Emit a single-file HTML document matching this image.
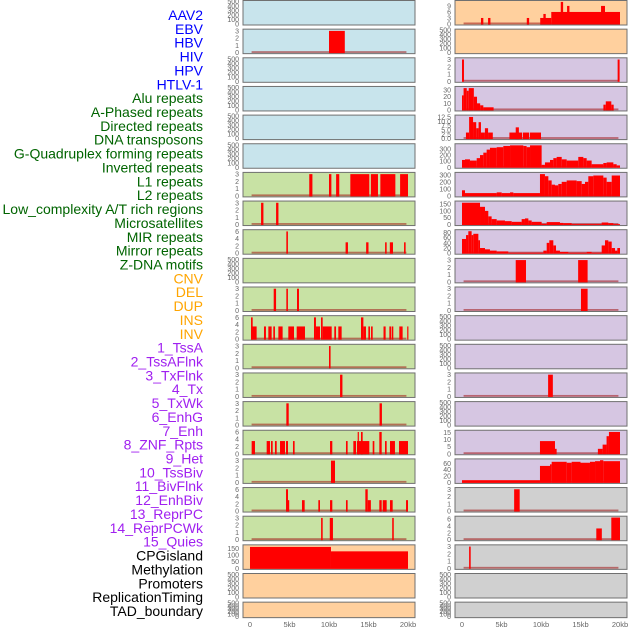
<!DOCTYPE html>
<html><head><meta charset="utf-8"><style>
body{margin:0;background:#fff;width:630px;height:630px;overflow:hidden}
svg{display:block;font-family:"Liberation Sans",sans-serif}
</style></head><body>
<svg id="chart" width="630" height="630" viewBox="0 0 630 630"></svg>
<script>
// ---------- data ----------
const labelNames = ["AAV2","EBV","HBV","HIV","HPV","HTLV-1","Alu repeats","A-Phased repeats","Directed repeats","DNA transposons","G-Quadruplex forming repeats","Inverted repeats","L1 repeats","L2 repeats","Low_complexity A/T rich regions","Microsatellites","MIR repeats","Mirror repeats","Z-DNA motifs","CNV","DEL","DUP","INS","INV","1_TssA","2_TssAFlnk","3_TxFlnk","4_Tx","5_TxWk","6_EnhG","7_Enh","8_ZNF_Rpts","9_Het","10_TssBiv","11_BivFlnk","12_EnhBiv","13_ReprPC","14_ReprPCWk","15_Quies","CPGisland","Methylation","Promoters","ReplicationTiming","TAD_boundary"];
const labelGroups = [6,13,5,15,5];
const groupColors = ["#0000ff","#006400","#ffa500","#a020f0","#000000"];
const xTickValues = [0,5,10,15,20];
const xTickLabels = ["0","5kb","10kb","15kb","20kb"];
const emptyTicks = [0,100,200,300,400,500];
const t3 = [0,1,2,3];
const t6 = [0,2,4,6];

// segments: [startKb, endKb, value]
const leftHBV = [[10,12,3]];
const leftL1 = [[7.5,7.9,3],[10.0,10.3,3],[10.9,11.3,3],[12.7,15.1,3],[15.3,16.2,3],[16.5,18.4,3],[19.0,20,3]];
const leftL2 = [[1.4,1.7,3],[3.3,3.6,3]];
const leftLowComp = [[4.6,4.8,6],[12.1,12.4,3],[14.7,15.0,3],[17.1,17.3,3],[17.7,18.1,3],[19.5,19.7,3]];
const leftMIR = [[3.0,3.3,3],[4.6,4.8,3],[5.95,6.2,3]];
const leftMirror = [[0.13,0.84,3.5],[0.13,0.34,6],[1.77,2.02,3.5],[2.32,2.74,3.5],[2.95,3.16,3.5],[3.59,4.13,3.5],[4.85,5.57,3.5],[5.91,6.96,3.5],[8.1,8.35,6],[8.35,8.86,3.5],[8.99,9.2,6],[9.2,10.34,3.5],[10.67,10.89,3.5],[11.18,11.6,3.5],[14.05,14.35,6],[14.35,14.68,3.5],[14.98,15.19,3.5],[15.32,15.53,3.5],[16.9,17.17,3.5],[17.64,17.85,3.5],[17.93,18.14,3.5],[18.9,19.32,3.5],[19.9,20,3.5]];
const leftTssA = [[10.0,10.2,3]];
const leftTssAFlnk = [[11.4,11.7,3]];
const leftTxFlnk = [[4.6,4.9,3],[16.4,16.7,3]];
const leftTx = [[0.21,0.63,3.5],[2.11,2.53,3.5],[2.66,2.87,3.5],[3.16,3.38,3.5],[3.8,4.43,3.5],[4.56,4.81,3.5],[5.44,5.65,3.5],[10.13,10.42,3.5],[12.15,12.36,3.5],[13.08,13.42,3.5],[13.54,15.1,3.5],[13.63,13.76,6],[14.05,14.26,6],[15.53,15.74,3.5],[16.37,16.67,6],[17.09,17.3,3.5],[17.72,18.35,3.5],[18.86,20,3.5]];
const leftTxWk = [[10.25,10.76,3]];
const leftEnhG = [[4.56,4.81,6],[4.81,4.95,3],[6.58,6.92,3],[8.65,8.86,3],[10.13,10.42,3],[12.15,12.36,3],[14.6,14.9,6],[14.9,15.3,3],[16.37,16.67,3],[16.8,17.3,3],[17.72,18.06,3],[19.75,20,3]];
const leftEnh = [[9.0,9.2,3],[10.1,10.5,3],[18.0,18.2,3]];
const leftCPG = [[0,10.25,160],[10.25,20,127]];

const rightAAV2 = [[2.4,2.7,3],[3.3,3.6,3],[8.2,8.5,3],[9.9,11.3,3],[10.3,10.6,5],[11.3,20,6],[12.5,12.8,11],[13.3,13.6,9],[17.6,18.1,9]];
const rightHBV = [[0,0.25,3],[19.7,19.95,3]];
const rightHPV = [[0.5,0.9,3.5],[0.9,1.4,12.5],[1.4,1.8,9.5],[1.8,2.1,6],[2.1,2.4,9.5],[2.4,2.9,3.5],[2.9,3.3,6],[3.3,3.9,3.5],[6.0,7.6,3.5],[6.8,7.2,6.5],[7.7,8.5,3.5],[8.6,10.0,3.5]];
const rightZDNA = [[6.8,8.1,3],[14.7,15.9,3]];
const rightCNV = [[15.06,15.9,3]];
const rightINS = [[10.9,11.5,3]];
const rightBivFlnk = [[6.6,7.3,3]];
const rightEnhBiv = [[17.0,17.7,3.3],[18.9,20,6.5]];
const rightReprPC = [[0.9,1.1,3]];

// step profiles: [startKb, value], each step runs to the next start; last runs to the end value
const rightHIVSteps = [[0,22],[0.2,33],[0.6,29],[0.85,33],[1.5,20],[1.9,10],[2.3,7],[2.7,4],[4.0,0],[17.9,8],[18.2,13],[18.9,8]];
const rightHIVEnd = 19.2;
const rightGQSteps = [[0,120],[0.38,130],[1.01,110],[1.86,150],[2.28,200],[2.7,240],[3.12,290],[3.54,320],[4.39,330],[5.23,350],[6.08,360],[7.76,350],[8.18,330],[8.61,360],[10.08,40],[10.5,80],[11.14,120],[11.56,150],[11.98,170],[12.62,130],[13.25,110],[14.72,170],[15.36,150],[15.78,110],[16.41,50],[17.89,70],[18.31,80],[19.16,50],[19.58,30]];
const rightInvSteps = [[0,80],[0.38,40],[4.39,50],[5.02,40],[6.08,50],[6.5,40],[9.87,310],[10.5,280],[10.93,220],[11.35,160],[11.77,150],[12.19,170],[12.62,200],[13.25,220],[14.51,210],[15.15,170],[15.57,200],[15.99,280],[16.62,290],[17.89,260],[18.31,200],[18.95,290]];
const rightL1Steps = [[0,160],[2.28,130],[2.91,100],[3.33,60],[3.75,40],[4.39,30],[5.44,25],[6.29,20],[7.55,40],[7.97,45],[8.4,30],[8.82,20],[10.08,5],[10.72,18],[12.4,12],[12.83,10],[13.88,3],[17.68,15],[18.52,10],[19.16,3]];
const rightL2Steps = [[0,55],[0.51,70],[0.8,85],[1.22,70],[1.43,75],[2.07,50],[2.28,20],[2.91,15],[3.54,10],[4.39,7],[5.86,2],[10.3,10],[10.72,40],[11.05,50],[11.56,30],[11.9,10],[12.4,5],[13.46,2],[15.78,5],[16.41,2],[17.68,30],[18.1,50],[18.52,45],[18.95,20],[19.37,10],[19.66,20]];
const rightTssBivSteps = [[9.87,9],[11.77,3.5],[11.98,0],[17.2,3.5],[17.8,6.5],[18.3,12.5],[18.6,15.5]];
const rightBivSteps = [[0,7],[9.87,52],[11.14,57],[11.35,65],[13.25,62],[13.88,65],[15.0,62],[16.2,65],[16.84,67],[17.47,70],[17.89,67]];

function steps(arr,end){const out=[];for(let i=0;i<arr.length;i++){const e=i<arr.length-1?arr[i+1][0]:end;out.push([arr[i][0],e,arr[i][1]]);}return out;}

const BLUE="#c8e4ec",GREEN="#c8e2a4",ORANGE="#ffd09e",PURPLE="#d6c6e2",GRAY="#d0d0d0";
const leftBg=[BLUE,BLUE,BLUE,BLUE,BLUE,BLUE,GREEN,GREEN,GREEN,GREEN,GREEN,GREEN,GREEN,GREEN,GREEN,GREEN,GREEN,GREEN,GREEN,ORANGE,ORANGE,ORANGE];
const rightBg=[ORANGE,ORANGE,PURPLE,PURPLE,PURPLE,PURPLE,PURPLE,PURPLE,PURPLE,PURPLE,PURPLE,PURPLE,PURPLE,PURPLE,PURPLE,PURPLE,PURPLE,GRAY,GRAY,GRAY,GRAY,GRAY];
// [data, ticks, ymax, tickLabels]
const leftPanels=[
 [null],[leftHBV,t3,3.1],[null],[null],[null],[null],
 [leftL1,t3,3.1],[leftL2,t3,3.1],[leftLowComp,t6,6.2],[null],[leftMIR,t3,3.1],[leftMirror,t6,6.2],
 [leftTssA,t3,3.1],[leftTssAFlnk,t3,3.1],[leftTxFlnk,t3,3.1],[leftTx,t6,6.2],[leftTxWk,t3,3.1],[leftEnhG,t6,6.2],[leftEnh,t3,3.1],
 [leftCPG,[0,50,100,150],168],[null],[null]];
const rightPanels=[
 [rightAAV2,[0,3,6,9],11.2],[null],[rightHBV,t3,3.1],[steps(rightHIVSteps,rightHIVEnd),[0,10,20,30],34],
 [rightHPV,[0,2.5,5,7.5,10,12.5],13,["0.0","2.5","5.0","7.5","10.0","12.5"]],
 [steps(rightGQSteps,20),[0,100,200,300],370],[steps(rightInvSteps,20),[0,100,200,300],320],
 [steps(rightL1Steps,20),[0,50,100,150],165],[steps(rightL2Steps,20),[0,20,40,60,80],87],
 [rightZDNA,t3,3.1],[rightCNV,t3,3.1],[null],[null],[rightINS,t3,3.1],[null],
 [steps(rightTssBivSteps,20),[0,5,10,15],16],[steps(rightBivSteps,20),[0,20,40,60],71],
 [rightBivFlnk,t3,3.1],[rightEnhBiv,t6,6.6],[rightReprPC,t3,3.1],[null],[null]];

// ---------- drawing ----------
const NS="http://www.w3.org/2000/svg";
const svg=document.getElementById('chart');
function mk(tag,attrs,parent){const e=document.createElementNS(NS,tag);for(const k in attrs)e.setAttribute(k,attrs[k]);(parent||svg).appendChild(e);return e;}
const PITCH=28.65;
function rowTop(i){return i*PITCH+0.5;}
function rowH(i){return i===21?15.5:24.5;}

// labels
let li=0;
labelGroups.forEach((n,g)=>{for(let k=0;k<n;k++){
  const t=mk('text',{x:203,y:15+li*13.86+5,'text-anchor':'end','font-size':'14px',fill:groupColors[g]});
  
  
  t.textContent=labelNames[li];li++;}});

function drawPanel(col,i,cfg,bg){
  const x0=col===0?243:455, w=172, kb0=col===0?250:462, pxkb=7.9;
  const top=rowTop(i), h=rowH(i), bot=top+h;
  const g=mk('g',{});
  
  
  mk('rect',{x:x0,y:top,width:w,height:h,fill:bg,stroke:'#707070','stroke-width':1},g);
  const data=cfg[0];
  const ticks=data?cfg[1]:emptyTicks;
  const ymax=data?cfg[2]:500;
  const tl=cfg[3];
  const ys=v=>bot-1-v/ymax*(h-2);
  const xs=k=>kb0+k*pxkb;
  ticks.forEach((v,j)=>{
    const t=mk('text',{x:x0-4,y:ys(v)+2.5,'text-anchor':'end','font-size':'7px',fill:'#666'},g);
    
    
    t.textContent=tl?tl[j]:String(v);
  });
  if(data){
    mk('rect',{x:xs(0.2),y:bot-2.5,width:xs(19.8)-xs(0.2),height:1.8,fill:'rgba(160,20,20,0.55)'},g);
    data.forEach(s=>{
      if(s[2]<=0)return;
      const y=Math.max(ys(s[2]),top+0.5);
      const r=mk('rect',{x:xs(s[0]),y:y,width:Math.max(xs(s[1])-xs(s[0]),1.2),height:bot-0.5-y,fill:'#ff0000'},g);
      
      
    });
  }
}
for(let i=0;i<22;i++){drawPanel(0,i,leftPanels[i],leftBg[i]);drawPanel(1,i,rightPanels[i],rightBg[i]);}

// x axes
[250,462].forEach((kb0,c)=>{
  xTickValues.forEach((v,j)=>{
    const t=mk('text',{x:kb0+v*7.9,y:627,'text-anchor':'middle','font-size':'7.5px',fill:'#666'});
    
    
    t.textContent=xTickLabels[j];
  });
});
</script>
</body></html>
